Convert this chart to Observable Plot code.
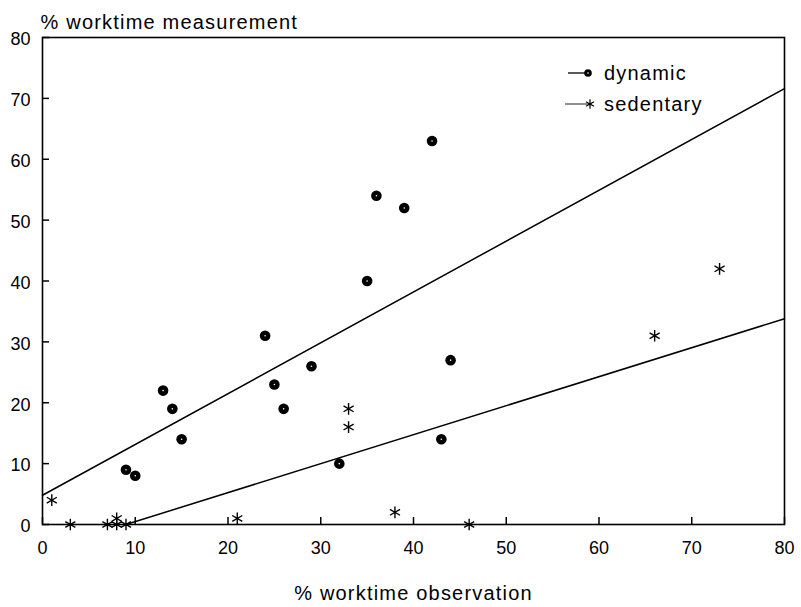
<!DOCTYPE html>
<html>
<head>
<meta charset="utf-8">
<script src="https://cdn.jsdelivr.net/npm/d3@7"></script>
<script src="https://cdn.jsdelivr.net/npm/@observablehq/plot@0.6"></script>
<style>
  html, body { margin: 0; padding: 0; background: #fff; }
  #chart svg { display: block; }
</style>
</head>
<body>
<div id="chart"></div>
<script>
// ---- data ----
const dynamicX = [9, 10, 13, 14, 15, 24, 25, 26, 29, 32, 35, 36, 39, 42, 43, 44];
const dynamicY = [9, 8, 22, 19, 14, 31, 23, 19, 26, 10, 40, 54, 52, 63, 14, 27];
const sedentaryX = [1, 3, 7, 8, 8, 9, 21, 33, 33, 38, 46, 66, 73];
const sedentaryY = [4, 0, 0, 1, 0, 0, 1, 19, 16, 2, 0, 31, 42];
// fitted lines (end points)
const dynamicLineX = [0, 80];
const dynamicLineY = [4.8, 71.6];
const sedentaryLineX = [9, 80];
const sedentaryLineY = [0, 33.8];
const xTicks = [0, 10, 20, 30, 40, 50, 60, 70, 80];
const yTicks = [0, 10, 20, 30, 40, 50, 60, 70, 80];
const seriesNames = ["dynamic", "sedentary"];
const xTitle = "% worktime observation";
const yTitle = "% worktime measurement";

const dyn = dynamicX.map((x, i) => ({x, y: dynamicY[i]}));
const sed = sedentaryX.map((x, i) => ({x, y: sedentaryY[i]}));
const dynLine = dynamicLineX.map((x, i) => ({x, y: dynamicLineY[i]}));
const sedLine = sedentaryLineX.map((x, i) => ({x, y: sedentaryLineY[i]}));

const FONT = "'Liberation Sans', Arial, Helvetica, sans-serif";

function legendMark() {
  const g = d3.create("svg:g")
    .attr("font-family", FONT)
    .attr("font-size", 20)
    .attr("text-anchor", "start")
    .attr("letter-spacing", "1.2px")
    .attr("fill", "black");
  // dynamic
  const r0 = g.append("g").attr("transform", "translate(0,73)");
  r0.append("line").attr("x1", 568).attr("x2", 590).attr("y1", 0).attr("y2", 0)
    .attr("stroke", "black").attr("stroke-width", 1.3);
  r0.append("circle").attr("cx", 588).attr("cy", 0).attr("r", 3.8).attr("fill", "black");
  r0.append("circle").attr("cx", 588).attr("cy", 0).attr("r", 0.8).attr("fill", "white");
  r0.append("text").attr("x", 604).attr("y", 7).attr("text-anchor", "start").text(seriesNames[0]);
  // sedentary
  const r1 = g.append("g").attr("transform", "translate(0,104)");
  r1.append("line").attr("x1", 565).attr("x2", 592).attr("y1", 0).attr("y2", 0)
    .attr("stroke", "#333").attr("stroke-width", 1.1);
  r1.append("path").attr("transform", "translate(590,0)")
    .attr("d", d3.symbol(d3.symbolAsterisk, 60)())
    .attr("stroke", "black").attr("stroke-width", 1.2).attr("fill", "none");
  r1.append("text").attr("x", 604).attr("y", 7).attr("text-anchor", "start").text(seriesNames[1]);
  return g.node();
}

const chart = Plot.plot({
  width: 801,
  height: 607,
  marginLeft: 42,
  marginRight: 17,
  marginTop: 37,
  marginBottom: 83,
  style: {fontFamily: FONT, fontSize: "18px", color: "black", background: "white"},
  x: {domain: [0, 80]},
  y: {domain: [0, 80]},
  marks: [
    // tick labels
    Plot.axisX({ticks: xTicks, tickSize: 0, tickPadding: 17, fontSize: 18, label: null}),
    Plot.axisY({ticks: yTicks, tickSize: 0, tickPadding: 12, fontSize: 18, label: null, dy: 2}),
    // inward tick marks
    Plot.tickX(xTicks, {x: d => d, insetTop: 487 - 7, strokeWidth: 1.5}),
    Plot.tickY(yTicks, {y: d => d, insetRight: 742 - 7, strokeWidth: 1.5}),
    Plot.frame({stroke: "black", strokeWidth: 1.6}),
    // regression lines
    Plot.line(dynLine, {x: "x", y: "y", stroke: "black", strokeWidth: 1.5}),
    Plot.line(sedLine, {x: "x", y: "y", stroke: "black", strokeWidth: 1.5}),
    // points
    Plot.dot(dyn, {x: "x", y: "y", r: 5.3, fill: "black", stroke: "none"}),
    Plot.dot(dyn, {x: "x", y: "y", r: 0.8, fill: "white", stroke: "none"}),
    Plot.dot(sed, {x: "x", y: "y", r: 5.5, symbol: "asterisk", stroke: "black", strokeWidth: 1.4}),
    // titles
    Plot.text([yTitle], {text: d => d, frameAnchor: "top-left", textAnchor: "start", lineAnchor: "bottom",
      dx: -2, dy: -9, fontSize: 20, fill: "black"}),
    Plot.text([xTitle], {text: d => d, frameAnchor: "bottom", textAnchor: "middle", lineAnchor: "bottom",
      dy: 75, fontSize: 20, fill: "black"}),
    legendMark
  ]
});
d3.select(chart).selectAll("g[aria-label='text'] text").attr("letter-spacing", "1.2px");
document.getElementById("chart").appendChild(chart);
</script>
</body>
</html>
